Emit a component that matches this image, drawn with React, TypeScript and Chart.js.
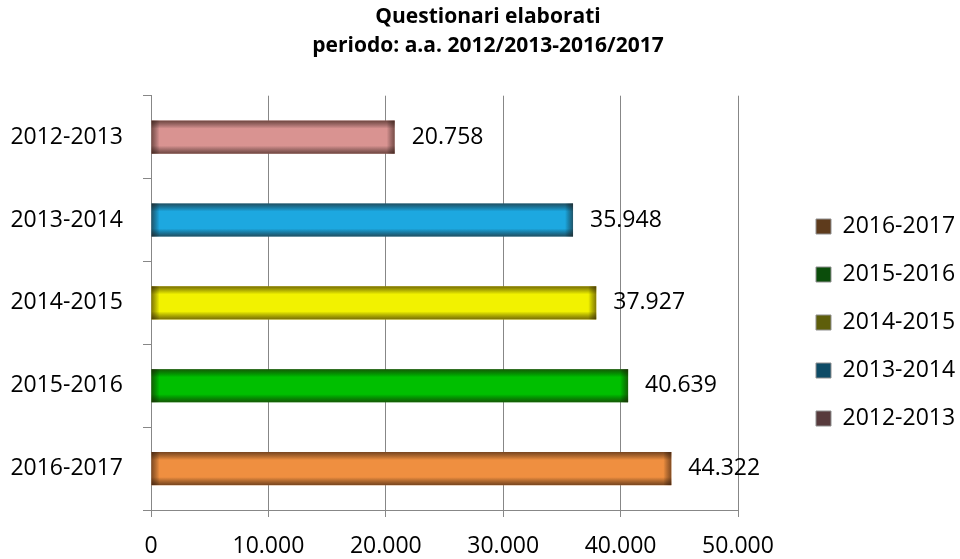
import React, { useEffect, useRef } from "react";
import { Chart, registerables } from "chart.js";

Chart.register(...registerables);

const titleLines = ["Questionari elaborati", "periodo: a.a. 2012/2013-2016/2017"];
const categories = ["2012-2013", "2013-2014", "2014-2015", "2015-2016", "2016-2017"];
const questionnaires = [20758, 35948, 37927, 40639, 44322];
const barColors = ["#D99391", "#1DA8E0", "#F2F200", "#00BF00", "#EF8F40"];
const legendOrder = ["2016-2017", "2015-2016", "2014-2015", "2013-2014", "2012-2013"];
const legendColors = ["#5E3B1C", "#0B4D0B", "#5E5E0B", "#0D4B66", "#573A3C"];
const xMin = 0;
const xMax = 50000;
const xStep = 10000;

const FONT = "'Open Sans', sans-serif";
const GRID = "#878787";
const TITLE_SHIFT = 16;

function fmtIt(n: number): string {
  return String(Math.round(n)).replace(/\B(?=(\d{3})+(?!\d))/g, ".");
}

const titleShift = {
  id: "titleShift",
  afterLayout(chart: any) {
    if (chart.titleBlock) chart.titleBlock.left += TITLE_SHIFT;
  },
};

const barDecor = {
  id: "barDecor",
  afterDatasetsDraw(chart: any) {
    const ctx = chart.ctx;
    const meta = chart.getDatasetMeta(0);
    meta.data.forEach((bar: any, i: number) => {
      const p = bar.getProps(["x", "y", "base", "height"], true);
      const l = Math.min(p.base, p.x);
      const r = Math.max(p.base, p.x);
      const t = p.y - p.height / 2;
      const b = p.y + p.height / 2;
      const w = r - l;
      const h = b - t;
      const e = 8;
      ctx.save();
      const gv = ctx.createLinearGradient(0, t, 0, b);
      gv.addColorStop(0, "rgba(40,20,10,0.6)");
      gv.addColorStop(e / h, "rgba(0,0,0,0)");
      gv.addColorStop(1 - e / h, "rgba(0,0,0,0)");
      gv.addColorStop(1, "rgba(40,20,10,0.6)");
      ctx.fillStyle = gv;
      ctx.fillRect(l, t, w, h);
      const gh = ctx.createLinearGradient(l, 0, r, 0);
      gh.addColorStop(0, "rgba(40,20,10,0.55)");
      gh.addColorStop(Math.min(0.49, e / w), "rgba(0,0,0,0)");
      gh.addColorStop(Math.max(0.51, 1 - e / w), "rgba(0,0,0,0)");
      gh.addColorStop(1, "rgba(40,20,10,0.55)");
      ctx.fillStyle = gh;
      ctx.fillRect(l, t, w, h);
      // value label
      ctx.fillStyle = "#000";
      ctx.font = `23px ${FONT}`;
      ctx.textAlign = "left";
      ctx.textBaseline = "middle";
      ctx.fillText(fmtIt(questionnaires[i]), r + 17, p.y);
      ctx.restore();
    });
  },
};

export default function App() {
  const ref = useRef<HTMLCanvasElement | null>(null);
  useEffect(() => {
    if (!ref.current) return;
    const chart = new Chart(ref.current, {
      type: "bar",
      data: {
        labels: categories,
        datasets: [
          {
            label: "Questionari",
            data: questionnaires,
            backgroundColor: barColors,
            borderWidth: 0,
            barPercentage: 0.4,
            categoryPercentage: 1,
          },
        ],
      },
      options: {
        indexAxis: "y",
        responsive: true,
        maintainAspectRatio: false,
        animation: false,
        layout: { padding: 0 },
        scales: {
          x: {
            min: xMin,
            max: xMax,
            ticks: {
              stepSize: xStep,
              callback: (v: any) => fmtIt(Number(v)),
              color: "#000",
              font: { family: FONT, size: 23 },
              padding: 16,
              maxRotation: 0,
              autoSkip: false,
            },
            grid: { color: GRID, lineWidth: 1, tickLength: 7 },
            border: { color: GRID },
            afterFit: (s: any) => {
              s.height = 49;
            },
          },
          y: {
            ticks: { color: "#000", font: { family: FONT, size: 23 }, padding: 20 },
            grid: { drawOnChartArea: false, color: GRID, tickLength: 8, offset: true },
            border: { color: GRID },
            afterFit: (s: any) => {
              s.width = 151;
            },
          },
          yPad: {
            type: "category",
            axis: "y",
            position: "right",
            display: true,
            grid: { display: false },
            border: { display: false },
            ticks: { display: false },
            afterFit: (s: any) => {
              s.width = 53;
            },
          },
        } as any,
        plugins: {
          title: {
            display: true,
            text: titleLines,
            color: "#000",
            font: { family: FONT, size: 21, weight: "bold", lineHeight: 1.35 },
            padding: { top: 3, bottom: 36 },
          },
          legend: {
            position: "right",
            maxWidth: 169,
            title: { display: true, text: " ", font: { size: 10, lineHeight: 1.2 }, padding: 37 },
            labels: {
              boxWidth: 15,
              boxHeight: 15,
              padding: 25,
              color: "#000",
              font: { family: FONT, size: 23 },
              generateLabels: () =>
                legendOrder.map((t, i) => ({
                  text: t,
                  fillStyle: legendColors[i],
                  strokeStyle: "#8f8f8f",
                  lineWidth: 1,
                  hidden: false,
                  datasetIndex: 0,
                  fontColor: "#000",
                })),
            },
          },
          tooltip: { enabled: false },
        },
      } as any,
      plugins: [titleShift, barDecor],
    });
    return () => chart.destroy();
  }, []);
  return (
    <div style={{ position: "fixed", left: 0, top: 0, width: 960, height: 559, background: "#fff" }}>
      <canvas ref={ref} />
    </div>
  );
}
